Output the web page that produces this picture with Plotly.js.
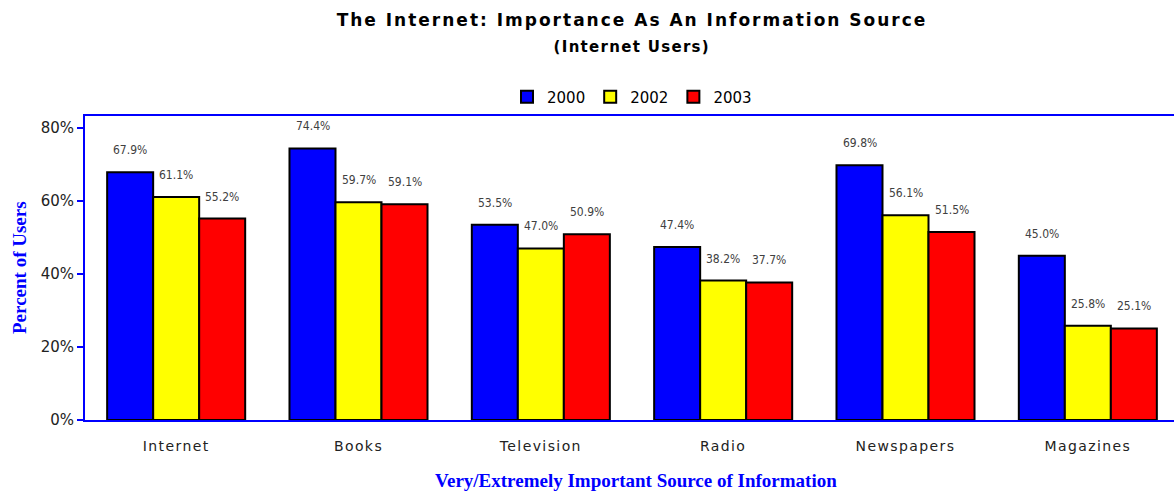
<!DOCTYPE html>
<html>
<head>
<meta charset="utf-8">
<script src="https://cdn.plot.ly/plotly-3.0.1.min.js"></script>
<style>
html,body{margin:0;padding:0;overflow:hidden;background:#fff;}
#chart{width:1180px;height:491px;}
.gtitle{letter-spacing:2px;}
.xtick text{letter-spacing:1.4px;}
.annotation[data-index="18"] text{letter-spacing:1.3px;}
</style>
</head>
<body>
<div id="chart"></div>
<script>
const categories = ["Internet", "Books", "Television", "Radio", "Newspapers", "Magazines"];
const seriesNames = ["2000", "2002", "2003"];
const values2000 = [67.9, 74.4, 53.5, 47.4, 69.8, 45.0];
const values2002 = [61.1, 59.7, 47.0, 38.2, 56.1, 25.8];
const values2003 = [55.2, 59.1, 50.9, 37.7, 51.5, 25.1];
const colors = ["#0000ff", "#ffff00", "#ff0000"];
const yTickVals = [0, 20, 40, 60, 80];
const yTickText = ["0%", "20%", "40%", "60%", "80%"];

const allValues = [values2000, values2002, values2003];
const traces = allValues.map((vals, i) => ({
  type: "bar",
  name: seriesNames[i],
  x: categories,
  y: vals,
  marker: {color: colors[i], line: {color: "#000", width: 2}},
  hoverinfo: "none"
}));

const labelFont = {family: "Liberation Sans Narrow, Arial Narrow, DejaVu Sans Condensed, sans-serif", size: 12, color: "#404040"};
const annotations = [];
allValues.forEach((vals, i) => {
  vals.forEach((v, j) => {
    annotations.push({
      x: categories[j], y: v, xref: "x", yref: "y",
      text: v.toFixed(1) + "%", showarrow: false,
      xshift: (i - 1) * 46, yshift: 22, yanchor: "middle",
      font: labelFont
    });
  });
});
annotations.push({
  text: "(Internet Users)", xref: "paper", yref: "paper", x: 0.5, y: 1, yshift: 69,
  xanchor: "center", yanchor: "middle",
  showarrow: false, font: {family: "DejaVu Sans, Verdana, sans-serif", size: 15, color: "#000", weight: "bold"}
});
annotations.push({
  text: "Percent of Users", xref: "paper", yref: "paper", x: 0, y: 0.5, xshift: -66,
  xanchor: "center", yanchor: "middle",
  textangle: -90, showarrow: false,
  font: {family: "Liberation Serif, Times New Roman, serif", size: 19, color: "#0000ff", weight: "bold"}
});
annotations.push({
  text: "Very/Extremely Important Source of Information", xref: "paper", yref: "paper", x: 0.5, y: 0, yshift: -60,
  xshift: 4, xanchor: "center", yanchor: "middle", showarrow: false,
  font: {family: "Liberation Serif, Times New Roman, serif", size: 19, color: "#0000ff", weight: "bold"}
});

const layout = {
  width: 1180, height: 491,
  margin: {l: 85, r: 1, t: 116, b: 71},
  paper_bgcolor: "#fff", plot_bgcolor: "#fff",
  title: {
    text: "The Internet: Importance As An Information Source",
    x: 0.5, xref: "paper", y: 1 - 20 / 491, yref: "container", yanchor: "middle",
    font: {family: "DejaVu Sans, Verdana, sans-serif", size: 17, color: "#000", weight: "bold"}
  },
  barmode: "group", bargap: 0.243, bargroupgap: 0,
  showlegend: true,
  legend: {
    orientation: "h", x: 0.5, xanchor: "center", xref: "paper", y: 1.0625, yanchor: "middle",
    font: {family: "DejaVu Sans, Verdana, sans-serif", size: 15, color: "#000"},
    itemwidth: 30, tracegroupgap: 0, itemclick: false
  },
  xaxis: {
    type: "category", showline: true, linecolor: "#0000ff", linewidth: 2, mirror: true,
    ticks: "", showgrid: false, zeroline: false, ticklabelstandoff: 12,
    tickfont: {family: "DejaVu Sans, Verdana, sans-serif", size: 14, color: "#222"}
  },
  yaxis: {
    range: [0, 83.3], tickvals: yTickVals, ticktext: yTickText,
    showline: true, linecolor: "#0000ff", linewidth: 2, mirror: true,
    ticks: "outside", ticklen: 6, tickcolor: "#0000ff", tickwidth: 2,
    showgrid: false, zeroline: false,
    tickfont: {family: "DejaVu Sans, Verdana, sans-serif", size: 15, color: "#222"}
  },
  annotations: annotations
};

Plotly.newPlot("chart", traces, layout, {displayModeBar: false, staticPlot: true});
</script>
</body>
</html>
